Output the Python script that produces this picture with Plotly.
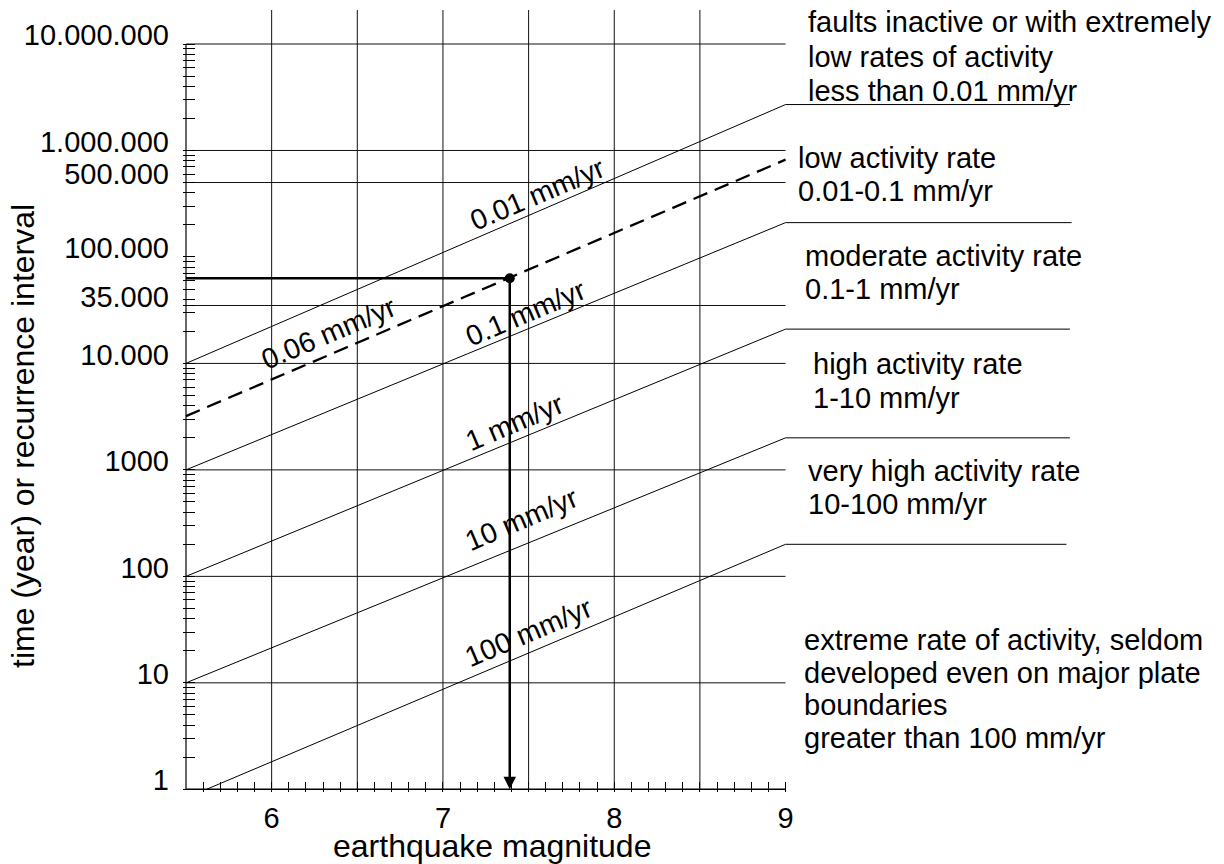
import math
import plotly.graph_objects as go

# ---------------- data ----------------
# vertical grid lines (earthquake magnitude)
grid_magnitudes = [6, 6.5, 7, 7.5, 8, 8.5]
x_tick_vals = [6, 7, 8, 9]
x_tick_text = ["6", "7", "8", "9"]

# y axis (time in years), labelled ticks and horizontal grid lines
y_tick_vals = [1, 10, 100, 1000, 10000, 35000, 100000, 500000, 1000000, 10000000]
y_tick_text = ["1", "10", "100", "1000", "10.000", "35.000", "100.000",
               "500.000", "1.000.000", "10.000.000"]
h_grid_years = [10, 100, 1000, 10000, 35000, 500000, 1000000, 10000000]

# slip-rate lines: start / end points (magnitude, years)
rate_names = ["0.01 mm/yr", "0.1 mm/yr", "1 mm/yr", "10 mm/yr", "100 mm/yr"]
rate_start_mag = [5.5, 5.5, 5.5, 5.5, 5.62]
rate_start_years = [10000, 1000, 100, 10, 1]
rate_end_mag = [9.0, 9.0, 9.0, 9.0, 9.0]
rate_end_years = [2.7e6, 2.1e5, 2.1e4, 2000, 200]
# horizontal leader lines to the class descriptions
leader_end_mag = [10.66, 10.67, 10.66, 10.66, 10.64]
# label centres (magnitude, years)
rate_label_mag = [7.55, 7.48, 7.42, 7.46, 7.50]
rate_label_years = [3.9e5, 3.0e4, 2800, 345, 30]

# example fault (dashed line) and the reading for M 7.39
example_name = "0.06 mm/yr"
example_mag = [5.5, 9.0]
example_years = [3200, 8.2e5]
example_label_mag = 6.33
example_label_years = 1.95e4
reading_mag = 7.39
reading_years = 63000

# activity classes (text lines)
class_lines = [
    ["faults inactive or with extremely", "low rates of activity", "less than 0.01 mm/yr"],
    ["low activity rate", "0.01-0.1 mm/yr"],
    ["moderate activity rate", "0.1-1 mm/yr"],
    ["high activity rate", "1-10 mm/yr"],
    ["very high activity rate", "10-100 mm/yr"],
    ["extreme rate of activity, seldom", "developed even on major plate",
     "boundaries", "greater than 100 mm/yr"],
]

# ---------------- layout geometry ----------------
OFF = 8                      # page body margin of the html page
W, H = 1224 - OFF, 864 - OFF
PX_PER_MAG = 171.3
PX_PER_DEC = 106.47
ML = 183 - OFF               # plot left edge (page px 183)
MT = 10 - OFF                # plot top edge (page px 10)
PLOT_W = 1025
PLOT_H = 782
MR = W - ML - PLOT_W
MB = H - MT - PLOT_H
X0 = 5.5 - 3 / PX_PER_MAG
X1 = X0 + PLOT_W / PX_PER_MAG
Y0 = -2.7 / PX_PER_DEC
Y1 = Y0 + PLOT_H / PX_PER_DEC
GRID_TOP = 10 ** Y1

FONT = "Liberation Sans, Arial, Helvetica, sans-serif"
BLACK = "#000000"


def paper_x(px):
    """page pixel -> paper coordinate"""
    return (px - OFF - ML) / PLOT_W


def paper_y(py):
    return (MT + PLOT_H - (py - OFF)) / PLOT_H


fig = go.Figure()

# vertical grid lines
gx, gy = [], []
for m in grid_magnitudes:
    gx += [m, m, None]
    gy += [1, GRID_TOP, None]
fig.add_trace(go.Scatter(x=gx, y=gy, mode="lines", line=dict(color="#111", width=1),
                         hoverinfo="skip"))

# horizontal grid lines
hx, hy = [], []
for v in h_grid_years:
    hx += [5.5, 9.0, None]
    hy += [v, v, None]
fig.add_trace(go.Scatter(x=hx, y=hy, mode="lines", line=dict(color="#111", width=1),
                         hoverinfo="skip"))

# axis lines (only over the data extent)
fig.add_trace(go.Scatter(x=[5.5, 5.5], y=[1, 10000000], mode="lines",
                         line=dict(color=BLACK, width=1.2), hoverinfo="skip"))
fig.add_trace(go.Scatter(x=[5.5, 9.0], y=[1, 1], mode="lines",
                         line=dict(color=BLACK, width=1.5), hoverinfo="skip"))

# slip-rate lines + leaders
for i, name in enumerate(rate_names):
    fig.add_trace(go.Scatter(
        x=[rate_start_mag[i], rate_end_mag[i], leader_end_mag[i]],
        y=[rate_start_years[i], rate_end_years[i], rate_end_years[i]],
        mode="lines", line=dict(color=BLACK, width=1), name=name, hoverinfo="skip"))
    fig.add_annotation(x=rate_label_mag[i], y=math.log10(rate_label_years[i]),
                       xref="x", yref="y", text=name, showarrow=False, textangle=-23,
                       xanchor="center", yanchor="middle",
                       font=dict(family=FONT, size=28.5, color=BLACK))

# example dashed line
fig.add_trace(go.Scatter(x=example_mag, y=example_years, mode="lines",
                         line=dict(color=BLACK, width=2.3, dash="15px,8px"),
                         name=example_name, hoverinfo="skip"))
fig.add_annotation(x=example_label_mag, y=math.log10(example_label_years),
                   xref="x", yref="y", text=example_name, showarrow=False, textangle=-23,
                   xanchor="center", yanchor="middle",
                   font=dict(family=FONT, size=28.5, color=BLACK))

# reading: horizontal line to the point, point, arrow down to the axis
fig.add_trace(go.Scatter(x=[5.5, reading_mag], y=[reading_years, reading_years],
                         mode="lines", line=dict(color=BLACK, width=2.5), hoverinfo="skip"))
fig.add_annotation(x=reading_mag, y=0, xref="x", yref="y",
                   ax=reading_mag, ay=math.log10(reading_years), axref="x", ayref="y",
                   text="", showarrow=True, arrowhead=2, arrowsize=1, arrowwidth=2.5,
                   arrowcolor=BLACK, standoff=0, startstandoff=0)
fig.add_trace(go.Scatter(x=[reading_mag], y=[reading_years], mode="markers",
                         marker=dict(color=BLACK, size=10), hoverinfo="skip"))

# class descriptions: (left page px, first line centre page px, line step px)
class_pos = [(806, 22, 34.5), (796, 158, 33), (803, 256, 33), (811, 364, 33.5),
             (806, 471, 32.5), (802, 640, 32.5)]
for lines, (px, py, step) in zip(class_lines, class_pos):
    for k, t in enumerate(lines):
        fig.add_annotation(x=paper_x(px), y=paper_y(py + k * step), xref="paper", yref="paper",
                           text=t, showarrow=False, xanchor="left", yanchor="middle",
                           font=dict(family=FONT, size=29, color=BLACK))

# axis titles
fig.add_annotation(x=paper_x(23), y=paper_y(436), xref="paper", yref="paper",
                   text="time (year) or recurrence interval", showarrow=False,
                   textangle=-90, xanchor="center", yanchor="middle",
                   font=dict(family=FONT, size=32, color=BLACK))
fig.add_annotation(x=paper_x(492), y=paper_y(846), xref="paper", yref="paper",
                   text="earthquake magnitude", showarrow=False,
                   xanchor="center", yanchor="middle",
                   font=dict(family=FONT, size=32, color=BLACK))

x_minor = [round(5.5 + 0.1 * i, 1) for i in range(1, 35)]
y_minor = [k * 10 ** d for d in range(0, 7) for k in range(2, 10)]

fig.update_layout(
    width=W, height=H, autosize=False,
    margin=dict(l=ML, r=MR, t=MT, b=MB, pad=0),
    paper_bgcolor="white", plot_bgcolor="white",
    showlegend=False,
    font=dict(family=FONT, color=BLACK),
    xaxis=dict(range=[X0, X1], showgrid=False, zeroline=False, showline=False,
               tickmode="array", tickvals=x_tick_vals, ticktext=x_tick_text,
               ticks="inside", ticklen=10, tickwidth=1, tickcolor=BLACK,
               tickfont=dict(family=FONT, size=29, color=BLACK),
               ticklabelstandoff=6,
               minor=dict(tickmode="array", tickvals=x_minor, ticks="inside",
                          ticklen=10, tickwidth=1, tickcolor=BLACK, showgrid=False)),
    yaxis=dict(type="log", range=[Y0, Y1], showgrid=False, zeroline=False, showline=False,
               tickmode="array", tickvals=y_tick_vals, ticktext=y_tick_text,
               ticks="inside", ticklen=12, tickwidth=1, tickcolor=BLACK,
               tickfont=dict(family=FONT, size=29, color=BLACK),
               ticklabelshift=-9, ticklabelstandoff=13,
               minor=dict(tickmode="array", tickvals=y_minor, ticks="inside",
                          ticklen=12, tickwidth=1, tickcolor=BLACK, showgrid=False)),
)

fig.write_html("out.html")
